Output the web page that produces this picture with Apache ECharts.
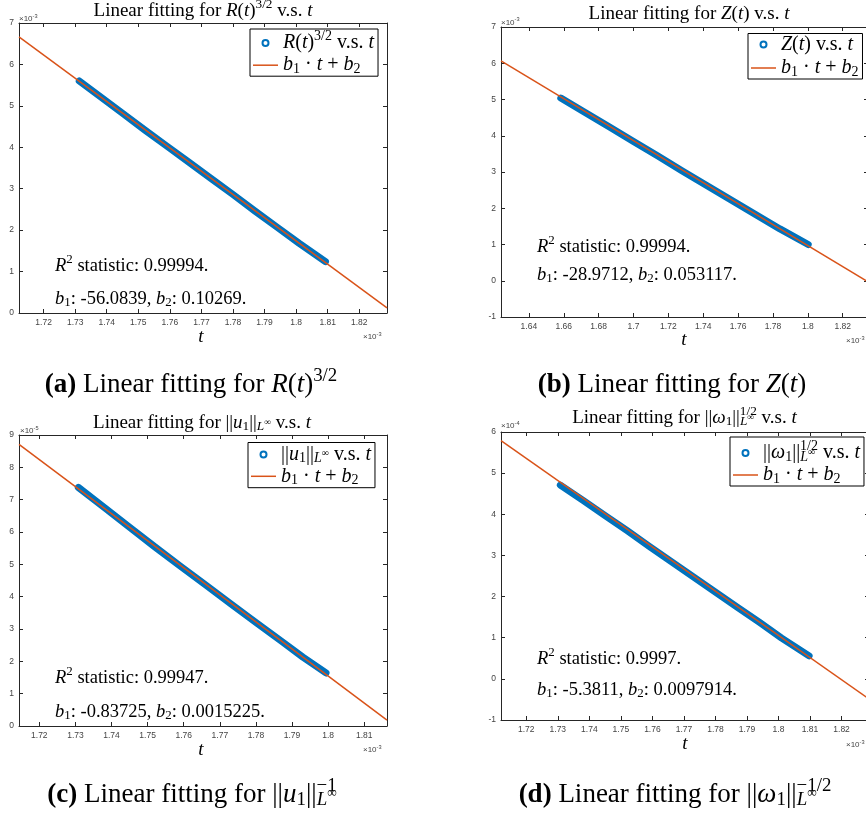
<!DOCTYPE html>
<html><head><meta charset="utf-8">
<script src="https://cdn.jsdelivr.net/npm/echarts@6/dist/echarts.min.js"></script>
<style>html,body{margin:0;padding:0;background:#fff}#c{width:866px;height:818px}</style>
</head><body><div id="c"></div>
<script>
// ---------- DATA (t in units of 1e-3) ----------
// (a) R(t)^{3/2} (x1e-3)
const tA = [1.7313, 1.738, 1.745, 1.752, 1.759, 1.766, 1.773, 1.780, 1.787, 1.794, 1.801, 1.8093];
const yA = [5.60, 5.22, 4.82, 4.42, 4.03, 3.64, 3.25, 2.86, 2.46, 2.07, 1.68, 1.24];
const fitTA = [1.7122, 1.8288];
const fitYA = [6.665, 0.125];
const xTicksA = [1.72, 1.73, 1.74, 1.75, 1.76, 1.77, 1.78, 1.79, 1.80, 1.81, 1.82];
const yTicksA = [0, 1, 2, 3, 4, 5, 6, 7];
// (b) Z(t) (x1e-3)
const tB = [1.6583, 1.672, 1.686, 1.700, 1.714, 1.728, 1.742, 1.756, 1.770, 1.784, 1.8002];
const yB = [5.04, 4.65, 4.25, 3.84, 3.44, 3.03, 2.63, 2.23, 1.83, 1.43, 1.00];
const fitTB = [1.624, 1.8345];
const fitYB = [6.068, -0.031];
const xTicksB = [1.64, 1.66, 1.68, 1.70, 1.72, 1.74, 1.76, 1.78, 1.80, 1.82];
const yTicksB = [-1, 0, 1, 2, 3, 4, 5, 6, 7];
// (c) ||u1||_{L^inf} (x1e-5)
const tC = [1.7308, 1.738, 1.745, 1.752, 1.759, 1.766, 1.773, 1.780, 1.787, 1.793, 1.7994];
const yC = [7.38, 6.76, 6.15, 5.54, 4.95, 4.37, 3.78, 3.20, 2.63, 2.13, 1.64];
const fitTC = [1.71437, 1.8163];
const fitYC = [8.71, 0.18];
const xTicksC = [1.72, 1.73, 1.74, 1.75, 1.76, 1.77, 1.78, 1.79, 1.80, 1.81];
const yTicksC = [0, 1, 2, 3, 4, 5, 6, 7, 8, 9];
// (d) ||omega1||^{1/2}_{L^inf} (x1e-4)
const tD = [1.7308, 1.738, 1.745, 1.752, 1.759, 1.766, 1.773, 1.780, 1.787, 1.794, 1.801, 1.8097];
const yD = [4.71, 4.34, 3.97, 3.60, 3.22, 2.85, 2.48, 2.11, 1.74, 1.37, 0.99, 0.56];
const fitTD = [1.71198, 1.8287];
const fitYD = [5.79, -0.49];
const xTicksD = [1.72, 1.73, 1.74, 1.75, 1.76, 1.77, 1.78, 1.79, 1.80, 1.81, 1.82];
const yTicksD = [-1, 0, 1, 2, 3, 4, 5, 6];

// ---------- TEXTS ----------
const titleA = '{r|Linear fitting for }{i|R}{r|(}{i|t}{r|)}{sup|3/2}{r| v.s. }{i|t}';
const titleB = '{r|Linear fitting for }{i|Z}{r|(}{i|t}{r|) v.s. }{i|t}';
const titleC = '{r|Linear fitting for ||}{i|u}{sub|1}{r|||}{subi|L}{subsup|∞}{r| v.s. }{i|t}';
const titleD = '{r|Linear fitting for ||}{i|ω}{sub|1}{r|||}{subi|L}{subsup|∞}{supk|1/2}{r| v.s. }{i|t}';
const legDataA = '{i|R}{r|(}{i|t}{r|)}{sup|3/2}{r| v.s. }{i|t}';
const legDataB = '{i|Z}{r|(}{i|t}{r|) v.s. }{i|t}';
const legDataC = '{r|||}{i|u}{sub|1}{r|||}{subi|L}{subsup|∞}{r| v.s. }{i|t}';
const legDataD = '{r|||}{i|ω}{sub|1}{r|||}{subi|L}{subsup|∞}{supk|1/2}{r| v.s. }{i|t}';
const legFit = '{i|b}{sub|1}{r| · }{i|t}{r| + }{i|b}{sub|2}';
const r2Texts = ['0.99994.', '0.99994.', '0.99947.', '0.9997.'];
const b1Texts = ['-56.0839', '-28.9712', '-0.83725', '-5.3811'];
const b2Texts = ['0.10269.', '0.053117.', '0.0015225.', '0.0097914.'];
const expTexts = ['-3', '-3', '-5', '-4'];
const capA = '{b|(a)}{r| Linear fitting for }{i|R}{r|(}{i|t}{r|)}{sup|3/2}';
const capB = '{b|(b)}{r| Linear fitting for }{i|Z}{r|(}{i|t}{r|)}';
const capC = '{b|(c)}{r| Linear fitting for ||}{i|u}{sub|1}{r|||}{subi|L}{subsup|∞}{supk|−1}';
const capD = '{b|(d)}{r| Linear fitting for ||}{i|ω}{sub|1}{r|||}{subi|L}{subsup|∞}{supk|−1/2}';

// ---------- STYLE / LAYOUT ----------
const SERIF = "'Liberation Serif', 'DejaVu Serif', serif";
const SANS = "'Liberation Sans', Arial, sans-serif";
const BLUE = '#0072BD', ORANGE = '#D95319', AX = '#262626', LAB = '#444';

function makeRich(size, lh, key, fam, color) {
  const base = (fs, extra) => Object.assign({fontFamily: fam, fontSize: fs, lineHeight: lh, verticalAlign: 'middle', [key]: color}, extra || {});
  return {
    r: base(size),
    i: base(size, {fontStyle: 'italic'}),
    b: base(size, {fontWeight: 'bold'}),
    sup: base(size * 0.7, {padding: [0, 0, size * 0.7, 0]}),
    sub: base(size * 0.7, {padding: [size * 0.4, 0, 0, 0]}),
    subi: base(size * 0.7, {fontStyle: 'italic', padding: [size * 0.4, 0, 0, 0]}),
    subsup: base(size * 0.5, {padding: [0, 0, size * 0.1, 0]}),
    supk: base(size * 0.7, {padding: [0, 0, size * 0.7, -size * 0.75]})
  };
}

const panels = [
  {g: {left: 19, top: 23, width: 368, height: 290}, t: tA, y: yA, ft: fitTA, fy: fitYA, xt: xTicksA, yt: yTicksA, leg: {left: 250, top: 29, itemGap: -2.8, padding: [0, 4, 0, 3]}, ld: legDataA},
  {g: {left: 501, top: 27, width: 367, height: 290}, t: tB, y: yB, ft: fitTB, fy: fitYB, xt: xTicksB, yt: yTicksB, leg: {left: 748, top: 33.5, itemGap: 2.5, padding: [1, 4, 0, 3]}, ld: legDataB},
  {g: {left: 19, top: 435, width: 368, height: 291}, t: tC, y: yC, ft: fitTC, fy: fitYC, xt: xTicksC, yt: yTicksC, leg: {left: 248, top: 442.5, itemGap: -0.2, padding: [1, 4, 0.4, 3]}, ld: legDataC},
  {g: {left: 501, top: 432, width: 368, height: 288}, t: tD, y: yD, ft: fitTD, fy: fitYD, xt: xTicksD, yt: yTicksD, leg: {left: 730, top: 437, itemGap: -3, padding: [2, 4, 0, 3]}, ld: legDataD}
];

const fmt = v => String(+(+v).toFixed(4));
function axis(gi, pos, ticks, mn, mx, showLabel) {
  return {
    type: 'value', gridIndex: gi, position: pos, min: mn, max: mx,
    axisLine: {show: true, onZero: false, lineStyle: {color: AX, width: 1}},
    axisTick: {show: true, inside: true, length: 4, customValues: ticks, lineStyle: {color: AX, width: 1}},
    axisLabel: {show: showLabel, customValues: ticks, fontSize: 8.5, color: LAB, fontFamily: SANS, margin: 5, formatter: fmt},
    splitLine: {show: false}
  };
}

const grid = [], xAxis = [], yAxis = [], series = [], legend = [];
panels.forEach((p, i) => {
  grid.push(Object.assign({outerBoundsMode: 'none', containLabel: false}, p.g));
  const xmn = p.ft[0], xmx = p.ft[1];
  const ymn = p.yt[0], ymx = p.yt[p.yt.length - 1];
  xAxis.push(axis(i, 'bottom', p.xt, xmn, xmx, true));
  xAxis.push(axis(i, 'top', p.xt, xmn, xmx, false));
  yAxis.push(axis(i, 'left', p.yt, ymn, ymx, true));
  yAxis.push(axis(i, 'right', p.yt, ymn, ymx, false));
  const dn = 'd' + i, fn = 'f' + i;
  series.push({
    type: 'line', name: dn, xAxisIndex: 2 * i, yAxisIndex: 2 * i,
    data: p.t.map((t, k) => [t, p.y[k]]),
    symbol: 'none', showSymbol: false, color: BLUE, itemStyle: {color: BLUE, borderWidth: 0},
    lineStyle: {color: BLUE, width: 7, cap: 'round', join: 'round'}, silent: true, z: 2
  });
  series.push({
    type: 'line', name: fn, xAxisIndex: 2 * i, yAxisIndex: 2 * i,
    data: [[p.ft[0], p.fy[0]], [p.ft[1], p.fy[1]]],
    symbol: 'none', showSymbol: false, color: ORANGE, itemStyle: {color: ORANGE, borderWidth: 0},
    lineStyle: {color: ORANGE, width: 1.5}, silent: true, z: 5
  });
  const names = {}; names[dn] = p.ld; names[fn] = legFit;
  legend.push(Object.assign({
    orient: 'vertical',
    data: [{name: dn, icon: 'emptyCircle'}, {name: fn, icon: 'path://M0 0H25V1.5H0Z'}],
    itemWidth: 25, itemHeight: 6, borderColor: '#000', borderWidth: 1, borderRadius: 0,
    backgroundColor: '#fff', selectedMode: false, itemStyle: {borderWidth: 0},
    formatter: n => names[n],
    textStyle: {fontFamily: SERIF, fontSize: 20, color: '#000', lineHeight: 20, rich: makeRich(20, 20, 'color', SERIF, '#000')}
  }, p.leg));
});

const gEls = [];
function txt(x, y, text, size, lh, align, fam, color) {
  gEls.push({
    type: 'text', x: x, y: y, silent: true, z: 100,
    style: {text: text, align: align, textAlign: align, verticalAlign: 'middle', textVerticalAlign: 'middle',
      fontFamily: fam, fontSize: size, fill: color, lineHeight: lh, rich: makeRich(size, lh, 'fill', fam, color)}
  });
}
// titles
[[titleA, 203, 11], [titleB, 689, 14], [titleC, 202, 423], [titleD, 684.5, 418]].forEach(a => txt(a[1], a[2], a[0], 19, 22, 'center', SERIF, '#000'));
// annotations
[[55, 266, 299], [537, 247, 275], [55, 678, 712], [537, 659, 690]].forEach((a, i) => {
  txt(a[0], a[1], '{i|R}{sup|2}{r| statistic: ' + r2Texts[i] + '}', 18.5, 22, 'left', SERIF, '#000');
  txt(a[0], a[2], '{i|b}{sub|1}{r|: ' + b1Texts[i] + ', }{i|b}{sub|2}{r|: ' + b2Texts[i] + '}', 18.5, 22, 'left', SERIF, '#000');
});
// x labels
[[201, 337], [684, 340], [201, 750], [685, 744]].forEach(a => txt(a[0], a[1], '{i|t}', 19, 20, 'center', SERIF, '#000'));
// exponent labels
[[19, 19, 363, 337, 0], [501, 22.5, 846, 341, 1], [20, 431, 363, 750, 2], [501, 426, 846, 745, 3]].forEach(a => {
  txt(a[0], a[1], '{r|×10}{sup|' + expTexts[a[4]] + '}', 8, 10, 'left', SANS, LAB);
  txt(a[2], a[3], '{r|×10}{sup|-3}', 8, 10, 'left', SANS, LAB);
});
// captions
[[capA, 191, 385], [capB, 672, 385], [capC, 192, 795], [capD, 675, 795]].forEach(a => txt(a[1], a[2], a[0], 27, 30, 'center', SERIF, '#000'));

const chart = echarts.init(document.getElementById('c'), null, {renderer: 'canvas'});
chart.setOption({
  animation: false, backgroundColor: '#fff',
  grid: grid, xAxis: xAxis, yAxis: yAxis, series: series, legend: legend,
  graphic: {elements: gEls}
});
</script></body></html>
